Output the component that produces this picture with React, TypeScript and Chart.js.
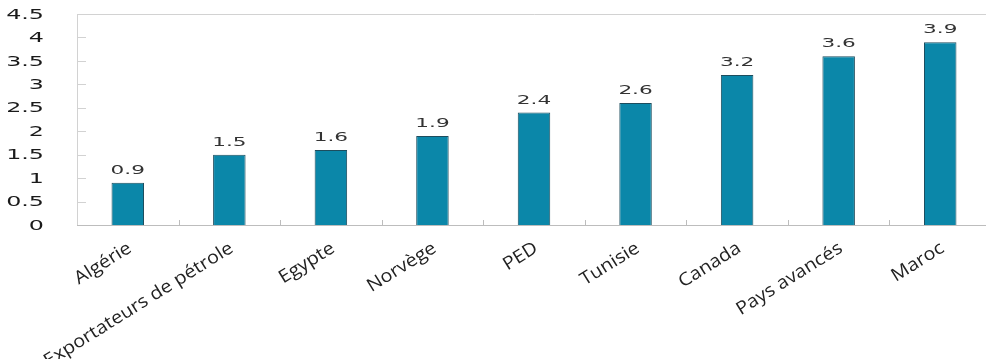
import React, { useEffect, useRef } from "react";
import { Chart, registerables } from "chart.js";

Chart.register(...registerables);

const categories = [
  "Algérie",
  "Exportateurs de pétrole",
  "Egypte",
  "Norvège",
  "PED",
  "Tunisie",
  "Canada",
  "Pays avancés",
  "Maroc",
];
const values = [0.9, 1.5, 1.6, 1.9, 2.4, 2.6, 3.2, 3.6, 3.9];
const valueLabels = ["0.9", "1.5", "1.6", "1.9", "2.4", "2.6", "3.2", "3.6", "3.9"];
const yTickValues = [0, 0.5, 1, 1.5, 2, 2.5, 3, 3.5, 4, 4.5];
const yTickLabels = ["0", "0.5", "1", "1.5", "2", "2.5", "3", "3.5", "4", "4.5"];

function stretchedText(
  ctx: CanvasRenderingContext2D,
  text: string,
  x: number,
  y: number,
  sx: number,
  align: CanvasTextAlign,
  baseline: CanvasTextBaseline,
  angle = 0
) {
  ctx.save();
  ctx.translate(x, y);
  if (angle) ctx.rotate(-angle);
  ctx.scale(sx, 1);
  ctx.textAlign = align;
  ctx.textBaseline = baseline;
  ctx.fillText(text, 0, 0);
  ctx.restore();
}

const decorPlugin = {
  id: "decor",
  beforeDatasetsDraw(chart: any) {
    const ctx = chart.ctx as CanvasRenderingContext2D;
    const { left, right, top, bottom } = chart.chartArea;
    const xs = chart.scales.x;
    const ys = chart.scales.y;
    ctx.save();
    ctx.strokeStyle = "#d2d2d2";
    ctx.lineWidth = 1;
    ctx.beginPath();
    ctx.moveTo(left + 0.5, bottom);
    ctx.lineTo(left + 0.5, top + 0.5);
    ctx.lineTo(right, top + 0.5);
    ctx.stroke();
    ctx.beginPath();
    for (const v of yTickValues) {
      const y = Math.round(ys.getPixelForValue(v)) + 0.5;
      ctx.moveTo(left, y);
      ctx.lineTo(left + 9, y);
    }
    ctx.stroke();
    ctx.strokeStyle = "#bdbdbd";
    ctx.beginPath();
    ctx.moveTo(left, bottom + 0.5);
    ctx.lineTo(right, bottom + 0.5);
    for (let i = 0; i < categories.length - 1; i++) {
      const x = Math.round((xs.getPixelForValue(i) + xs.getPixelForValue(i + 1)) / 2) + 0.5;
      ctx.moveTo(x, bottom);
      ctx.lineTo(x, bottom - 5);
    }
    ctx.stroke();
    ctx.restore();
  },
  afterDatasetsDraw(chart: any) {
    const ctx = chart.ctx as CanvasRenderingContext2D;
    const { bottom } = chart.chartArea;
    const xs = chart.scales.x;
    const ys = chart.scales.y;
    ctx.save();
    ctx.fillStyle = "#1a1a1a";
    ctx.font = "14px 'DejaVu Sans'";
    yTickValues.forEach((v, i) => {
      stretchedText(ctx, yTickLabels[i], 44, ys.getPixelForValue(v) + 1, 1.7, "right", "middle");
    });
    ctx.fillStyle = "#333333";
    ctx.font = "12px 'DejaVu Sans'";
    const meta = chart.getDatasetMeta(0);
    meta.data.forEach((el: any, i: number) => {
      stretchedText(ctx, valueLabels[i], el.x, el.y - 6, 1.8, "center", "bottom");
    });
    ctx.fillStyle = "#222222";
    ctx.font = "18px 'Open Sans'";
    const ang = (32 * Math.PI) / 180;
    categories.forEach((c, i) => {
      const x = xs.getPixelForValue(i);
      stretchedText(ctx, c, x + 5, bottom + 26, 1.1, "right", "alphabetic", ang);
    });
    ctx.restore();
  },
};

export default function App() {
  const ref = useRef<HTMLCanvasElement>(null);
  useEffect(() => {
    if (!ref.current) return;
    const chart = new Chart(ref.current, {
      type: "bar",
      data: {
        labels: categories,
        datasets: [
          {
            data: values,
            backgroundColor: "#0b87a9",
            borderColor: "#1d4d5e",
            borderWidth: 1,
            barPercentage: 0.32,
            categoryPercentage: 1,
          },
        ],
      },
      options: {
        responsive: false,
        animation: false,
        devicePixelRatio: 1,
        layout: { padding: { left: 77, top: 14, right: 0, bottom: 134 } },
        plugins: { legend: { display: false }, tooltip: { enabled: false } },
        scales: {
          x: { display: false },
          y: { display: false, min: 0, max: 4.5 },
        },
      },
      plugins: [decorPlugin],
    });
    return () => chart.destroy();
  }, []);
  return (
    <div
      style={{
        position: "absolute",
        left: 0,
        top: 0,
        width: 986,
        height: 359,
        overflow: "hidden",
        background: "#fff",
      }}
    >
      <canvas ref={ref} width={991} height={359} style={{ display: "block" }} />
    </div>
  );
}
